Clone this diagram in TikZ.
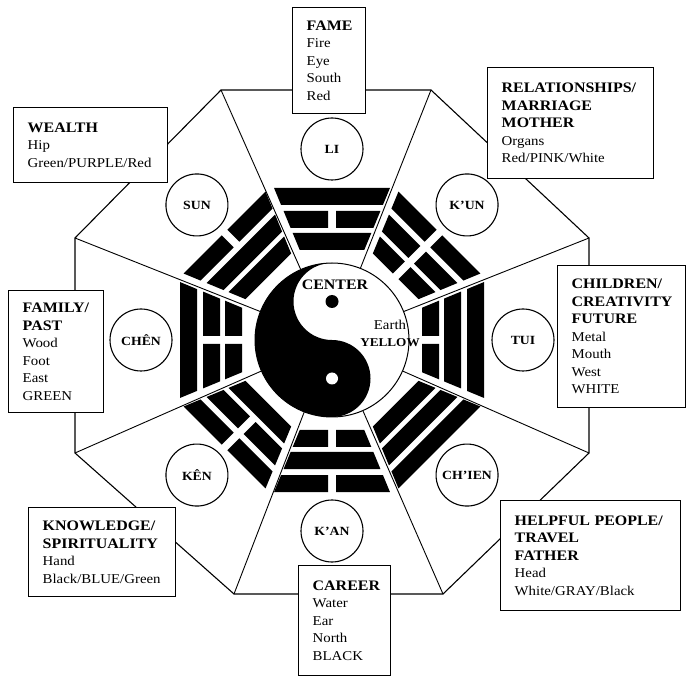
\documentclass[tikz,border=0pt]{standalone}
\usepackage{fontspec}
\setmainfont{Liberation Serif}[FakeStretch=1.1]
\usetikzlibrary{calc}

\newcommand{\boxfont}{\fontsize{13.5}{17.5}\selectfont}
\newcommand{\head}[1]{{\fontsize{14.5}{17.5}\selectfont\bfseries #1}}
\newcommand{\trigfont}{\fontsize{12.5}{14}\selectfont\bfseries}
% one line of a trigram: inner radius, outer radius, 1=solid 0=broken
\newcommand{\trigbar}[3]{%
\ifnum#3=1
\fill (#1,{#1*0.4142-5}) -- (#2,{#2*0.4142-5}) -- (#2,{5-#2*0.4142}) -- (#1,{5-#1*0.4142}) -- cycle;
\else
\fill (#1,{#1*0.4142-5}) -- (#2,{#2*0.4142-5}) -- (#2,4) -- (#1,4) -- cycle;
\fill (#1,{5-#1*0.4142}) -- (#2,{5-#2*0.4142}) -- (#2,-4) -- (#1,-4) -- cycle;
\fi}

\begin{document}
\begin{tikzpicture}[x=1pt,y=-1pt,
octline/.style={line width=1.1pt},
spoke/.style={line width=0.9pt},
trig/.style={circle,draw,fill=white,line width=1.1pt,minimum size=62pt,inner sep=0pt,font=\trigfont},
areabox/.style={draw,fill=white,line width=1.4pt,anchor=north west,align=left,inner xsep=14pt,inner ysep=3pt,font=\boxfont}]
\useasboundingbox (0,0) rectangle (686,676);
\coordinate (C) at (332,340);
%
% outer octagon
\coordinate (v1) at (221,90);
\coordinate (v2) at (431,90);
\coordinate (v3) at (589,238);
\coordinate (v4) at (589,453);
\coordinate (v5) at (443,594);
\coordinate (v6) at (234,594);
\coordinate (v7) at (75,453);
\coordinate (v8) at (75,238);
\draw[octline] (v1) -- (v2) -- (v3) -- (v4) -- (v5) -- (v6) -- (v7) -- (v8) -- cycle;
\foreach \v in {1,...,8} {
\draw[spoke] (v\v) -- ($(C)!77pt!(v\v)$);
}
% trigrams (inner, middle, outer line)
\foreach \ang/\pa/\pb/\pc in {270/1/0/1,315/0/0/0,0/0/1/1,45/1/1/1,90/0/1/0,135/1/0/0,180/0/0/1,225/1/1/0} {
\begin{scope}[shift={(C)},rotate=-\ang]
\trigbar{90}{107}{\pa}
\trigbar{112}{129}{\pb}
\trigbar{135}{152}{\pc}
\end{scope}
}
% yin-yang
\fill[white] (C) circle[radius=77];
\fill (C) ++(0,-77) arc[start angle=270,end angle=90,radius=77]
  arc[start angle=90,end angle=-90,radius=38.5]
  arc[start angle=90,end angle=270,radius=38.5] -- cycle;
\draw[line width=1pt] (C) circle[radius=77];
\fill ($(C)+(0,-38.5)$) circle[radius=6.5];
\fill[white] ($(C)+(0,38.5)$) circle[radius=6];
\node[font=\boxfont] (ctr) at (335,285) {\head{CENTER}};
\node[font=\boxfont] (earth) at (390,325) {Earth};
\node[font=\fontsize{12}{14}\selectfont\bfseries] (yellow) at (390,343) {YELLOW};
% trigram names
\foreach \ang/\nm/\lbl in {270/li/LI,315/kun/K'UN,0/tui/TUI,45/chien/CH'IEN,90/kan/K'AN,135/ken/KÊN,180/chen/CHÊN,225/sun/SUN} {
\node[trig] (\nm) at ($(C)+(\ang:191)$) {\lbl};
}
% areas
\node[areabox,text width=45pt,minimum height=106pt] (fame) at (292,7) {\head{FAME}\\Fire\\Eye\\South\\Red};
\node[areabox,text width=126pt,minimum height=75pt] (wealth) at (13,107) {\head{WEALTH}\\Hip\\Green/PURPLE/Red};
\node[areabox,text width=138pt,minimum height=111pt] (relation) at (487,67) {\head{RELATIONSHIPS/}\\\head{MARRIAGE}\\\head{MOTHER}\\Organs\\Red/PINK/White};
\node[areabox,text width=67pt,minimum height=122pt] (family) at (8,290) {\head{FAMILY/}\\\head{PAST}\\Wood\\Foot\\East\\GREEN};
\node[areabox,text width=100pt,minimum height=142pt] (children) at (557,265) {\head{CHILDREN/}\\\head{CREATIVITY}\\\head{FUTURE}\\Metal\\Mouth\\West\\WHITE};
\node[areabox,text width=119pt,minimum height=89pt] (knowledge) at (28,507) {\head{KNOWLEDGE/}\\\head{SPIRITUALITY}\\Hand\\Black/BLUE/Green};
\node[areabox,text width=64pt,minimum height=110pt] (career) at (298,565) {\head{CAREER}\\Water\\Ear\\North\\BLACK};
\node[areabox,text width=152pt,minimum height=110pt] (helpful) at (500,500) {\head{HELPFUL PEOPLE/}\\\head{TRAVEL}\\\head{FATHER}\\Head\\White/GRAY/Black};
\end{tikzpicture}
\end{document}
